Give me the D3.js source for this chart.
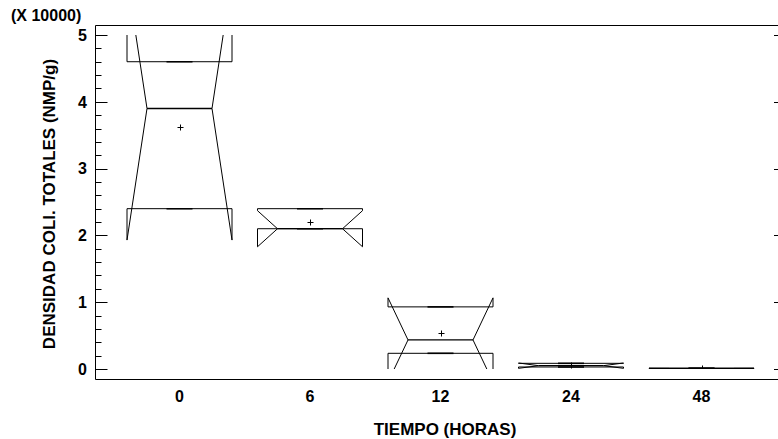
<!doctype html>
<html lang="es">
  <head>
    <meta charset="utf-8">
    <title>Densidad coliformes totales vs tiempo</title>
    <style>
      body {
        margin: 0;
        background: #fff;
      }

      text {
        font-family: "Liberation Sans", Arial, sans-serif;
        font-weight: bold;
        fill: #000;
      }
    </style>
  </head>
  <body>
    <div id="chart"></div>

    <script src="https://cdn.jsdelivr.net/npm/d3@7"></script>
    <script>
      // valores en unidades de 10000 NMP/g
      const horas = ['0', '6', '12', '24', '48']
      const q1 = [2.4, 2.1, 0.235, 0.03, 0.01]
      const mediana = [3.9, 2.1, 0.435, 0.05, 0.01]
      const q3 = [4.6, 2.4, 0.93, 0.085, 0.01]
      const minimo = [2.4, 2.1, 0.235, 0.03, 0.01]
      const maximo = [4.6, 2.4, 0.93, 0.085, 0.01]
      const media = [3.62, 2.2, 0.535, 0.065, 0.01]
      const muesca = [1.97, 0.27, 0.63, 0.04, 0.003]
      const yTicks = [0, 1, 2, 3, 4, 5]

      const width = 778
      const height = 439
      const plotLeft = 95.5
      const plotTop = 25.5
      const plotBottom = 379.5
      const boxW = 105
      const inset = 20

      const data = horas.map((h, i) => ({
        h,
        q1: q1[i],
        med: mediana[i],
        q3: q3[i],
        min: minimo[i],
        max: maximo[i],
        mean: media[i],
        notch: muesca[i]
      }))

      const svg = d3.select('#chart')
        .append('svg')
          .attr('width', width)
          .attr('height', height)

      const x = d3.scalePoint()
        .domain(horas)
        .range([179.5, 701.5])

      const y = d3.scaleLinear()
        .domain([0, 5])
        .range([369, 35])

      svg.append('clipPath')
        .attr('id', 'clip')
        .append('rect')
          .attr('x', plotLeft)
          .attr('y', y(5))
          .attr('width', width - plotLeft)
          .attr('height', y(0) - y(5))

      // marco
      svg.append('path')
        .attr('d', `M${width},${plotTop}H${plotLeft}V${plotBottom}H${width}`)
        .attr('fill', 'none')
        .attr('stroke', '#000')

      // marcas eje y izquierdo
      const minor = d3.range(0, 5.001, 0.2)
      svg.append('g')
        .selectAll('line')
        .data(minor)
        .join('line')
          .attr('x1', plotLeft)
          .attr('x2', d => Math.abs(d - Math.round(d)) < 1e-6 ? plotLeft + 12 : plotLeft + 6)
          .attr('y1', d => Math.round(y(d)) + 0.5)
          .attr('y2', d => Math.round(y(d)) + 0.5)
          .attr('stroke', '#000')

      // marcas eje y derecho
      svg.append('g')
        .selectAll('line')
        .data(yTicks)
        .join('line')
          .attr('x1', width - 4)
          .attr('x2', width)
          .attr('y1', d => Math.round(y(d)) + 0.5)
          .attr('y2', d => Math.round(y(d)) + 0.5)
          .attr('stroke', '#000')

      svg.append('g')
        .selectAll('text')
        .data(yTicks)
        .join('text')
          .attr('x', 87)
          .attr('y', d => y(d))
          .attr('dy', '0.36em')
          .attr('text-anchor', 'end')
          .attr('font-size', 16)
          .text(d => d)

      svg.append('g')
        .selectAll('text')
        .data(horas)
        .join('text')
          .attr('x', d => x(d))
          .attr('y', 402)
          .attr('text-anchor', 'middle')
          .attr('font-size', 16)
          .text(d => d)

      svg.append('text')
        .attr('x', 445)
        .attr('y', 435)
        .attr('text-anchor', 'middle')
        .attr('font-size', 17)
        .text('TIEMPO (HORAS)')

      svg.append('text')
        .attr('transform', 'translate(55,204) rotate(-90)')
        .attr('text-anchor', 'middle')
        .attr('font-size', 17)
        .text('DENSIDAD COLI. TOTALES (NMP/g)')

      svg.append('text')
        .attr('x', 11)
        .attr('y', 21)
        .attr('font-size', 16)
        .text('(X 10000)')

      // cajas con muesca
      const boxes = svg.append('g').attr('clip-path', 'url(#clip)')

      const gs = boxes.selectAll('g')
        .data(data)
        .join('g')

      gs.append('path')
        .attr('fill', 'none')
        .attr('stroke', '#000')
        .attr('d', d => {
          const c = x(d.h)
          const x0 = c - boxW / 2
          const x1 = c + boxW / 2
          const p = d3.path()
          p.moveTo(x0, y(d.q1))
          p.lineTo(x0, y(d.med - d.notch))
          p.lineTo(x0 + inset, y(d.med))
          p.lineTo(x0, y(d.med + d.notch))
          p.lineTo(x0, y(d.q3))
          p.lineTo(x1, y(d.q3))
          p.lineTo(x1, y(d.med + d.notch))
          p.lineTo(x1 - inset, y(d.med))
          p.lineTo(x1, y(d.med - d.notch))
          p.lineTo(x1, y(d.q1))
          p.closePath()
          return p.toString()
        })

      gs.append('line')
        .attr('x1', d => x(d.h) - boxW / 2 + inset)
        .attr('x2', d => x(d.h) + boxW / 2 - inset)
        .attr('y1', d => y(d.med))
        .attr('y2', d => y(d.med))
        .attr('stroke', '#000')
        .attr('stroke-width', 1.3)

      // bigotes
      gs.append('line')
        .attr('x1', d => x(d.h))
        .attr('x2', d => x(d.h))
        .attr('y1', d => y(d.q3))
        .attr('y2', d => y(d.max))
        .attr('stroke', '#000')
      gs.append('line')
        .attr('x1', d => x(d.h))
        .attr('x2', d => x(d.h))
        .attr('y1', d => y(d.q1))
        .attr('y2', d => y(d.min))
        .attr('stroke', '#000')

      gs.selectAll('.cap')
        .data(d => [d.min, d.max].map(v => ({ c: x(d.h), v })))
        .join('line')
          .attr('class', 'cap')
          .attr('x1', d => d.c - 13)
          .attr('x2', d => d.c + 13)
          .attr('y1', d => y(d.v))
          .attr('y2', d => y(d.v))
          .attr('stroke', '#000')
          .attr('stroke-width', 1.6)

      // media
      gs.append('path')
        .attr('stroke', '#000')
        .attr('fill', 'none')
        .attr('d', d => {
          const cx = Math.round(x(d.h)) + 0.5
          const cy = Math.round(y(d.mean)) + 0.5
          return `M${cx - 3},${cy}H${cx + 3}M${cx},${cy - 3}V${cy + 3}`
        })
    </script>
  </body>
</html>
